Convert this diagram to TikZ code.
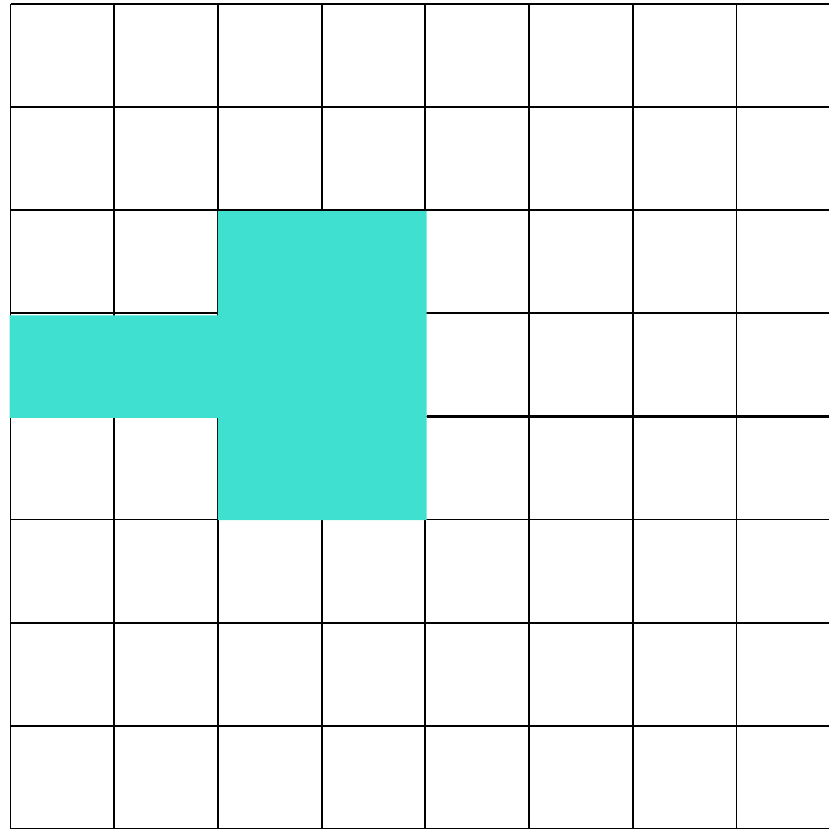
\documentclass[tikz,border=0pt]{standalone}
\definecolor{turq}{HTML}{40E0D0}
\begin{document}
\begin{tikzpicture}[x=1pt,y=-1pt,
  gridline/.style={black,line width=1.8pt},
  thickline/.style={black,line width=3pt},
  region/.style={fill=turq,draw=none}]
\useasboundingbox (0,0) rectangle (829,829);
\clip (0,0) rectangle (829,829);
% vertical grid lines
\foreach \i in {0,...,7} {
  \draw[gridline] ({10.5+103.7*\i},4) -- ({10.5+103.7*\i},835);
}
% horizontal grid lines
\foreach \j in {0,...,8} {
  \draw[gridline] (10.5,{4+103.1*\j}) -- (835,{4+103.1*\j});
}
% turquoise region
\fill[region] (217.9,211.2) -- (426.5,211.2) -- (426.5,520) -- (217.9,520)
  -- (217.9,417.8) -- (9.6,417.8) -- (9.6,315.3) -- (217.9,315.3) -- cycle;
% thicker segment
\draw[thickline] (426.5,416.5) -- (835,416.5);
\end{tikzpicture}
\end{document}
